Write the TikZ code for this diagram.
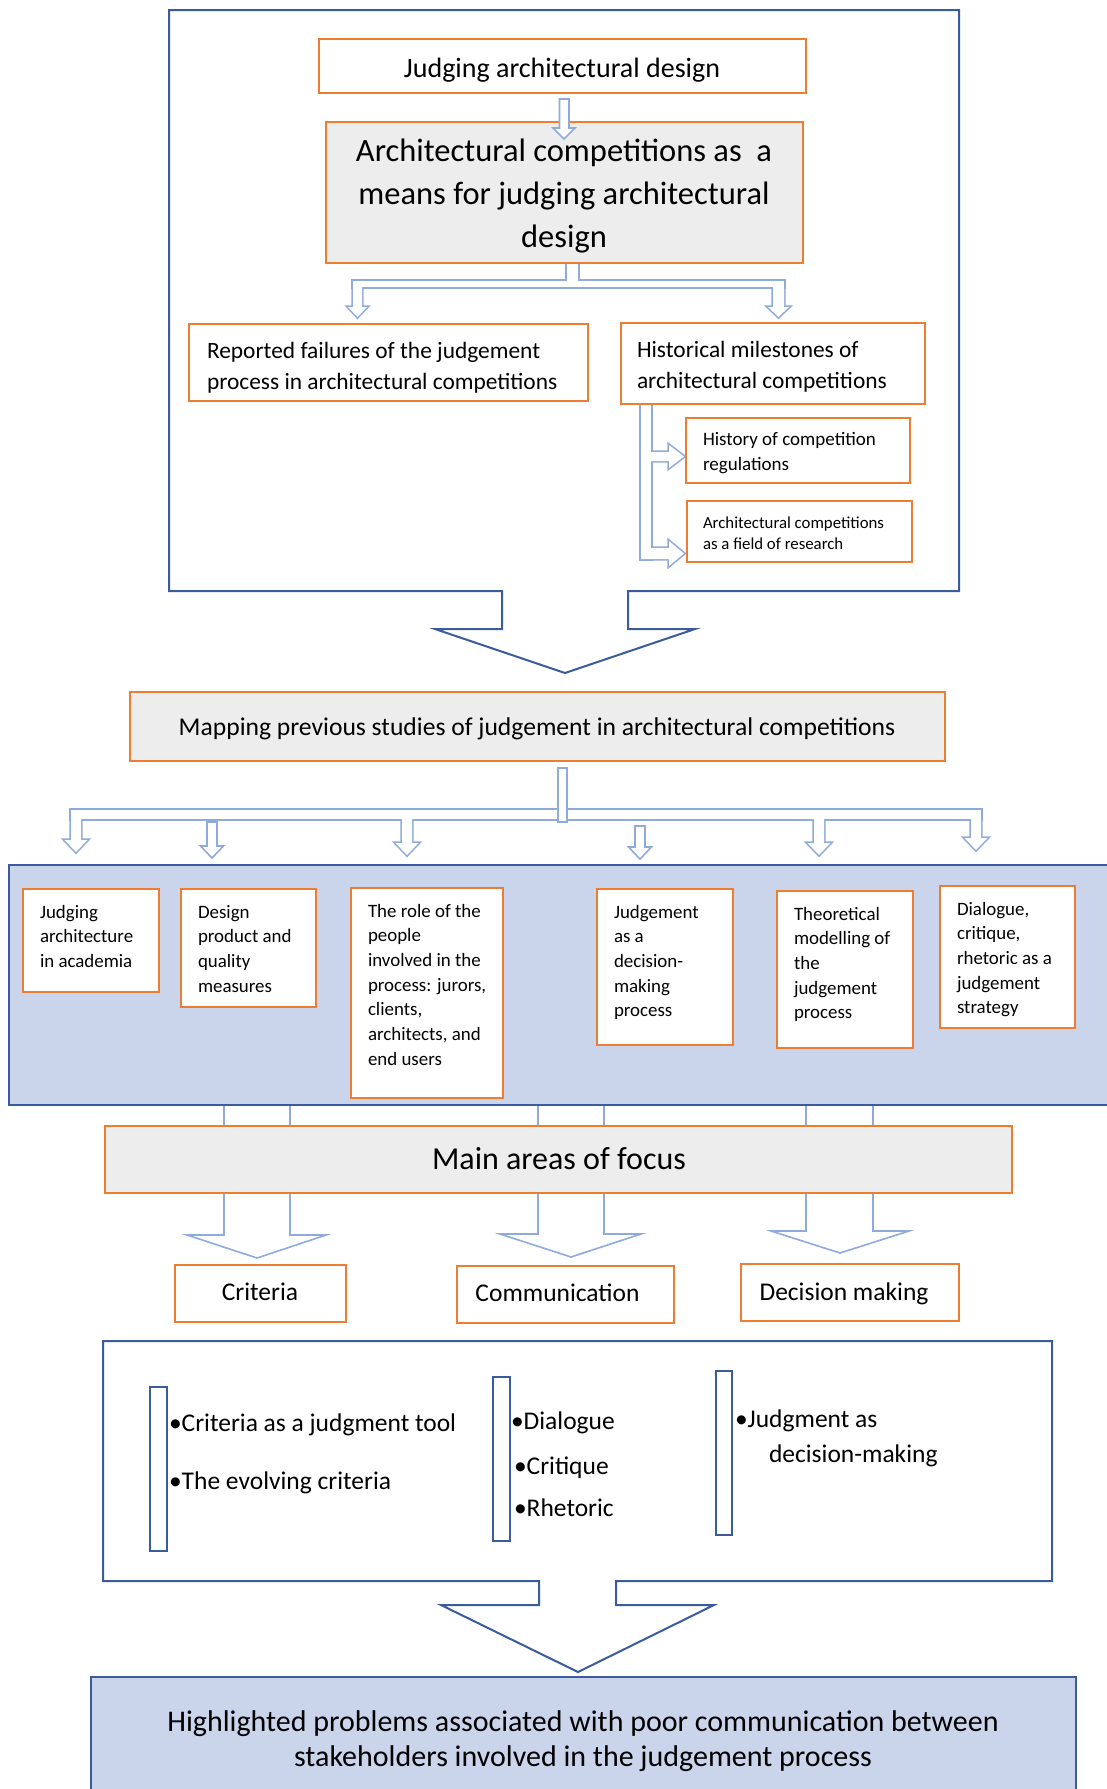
\documentclass[tikz,border=0pt]{standalone}
\usepackage{fontspec}
\setmainfont{Carlito}
\usetikzlibrary{calc}
\definecolor{orng}{HTML}{ED7D31}
\definecolor{lblue}{HTML}{8FAADC}
\definecolor{dblue}{HTML}{3B5C9C}
\definecolor{bfill}{HTML}{CAD5EC}
\definecolor{gfill}{HTML}{EDEDED}
\newcommand\fs[2]{\fontsize{#1}{#2}\selectfont}
\newcommand\bx[6]{\node[#1, anchor=north west, minimum width={#5-#3}, minimum height={#6-#4}] (#2) at (#3,#4) {};}
\newcommand\union[1]{%
  \foreach \p in {#1}{\draw[draw=lblue, line width=3.2pt, line join=miter] \p;}
  \foreach \p in {#1}{\fill[white] \p;}
}
\tikzset{
  obox/.style={draw=orng, line width=2.4pt, fill=white, inner sep=0pt, outer sep=0pt},
  gbox/.style={obox, fill=gfill},
  bbox/.style={draw=dblue, line width=2pt, fill=bfill, inner sep=0pt, outer sep=0pt},
  barst/.style={draw=dblue, line width=2pt, fill=white, inner sep=0pt, outer sep=0pt},
  hol/.style={draw=lblue, line width=1.6pt, fill=white, line join=miter},
  dbl/.style={draw=dblue, line width=2pt, line join=miter},
  tx/.style={inner sep=0pt, outer sep=0pt, align=left},
}
\begin{document}
\begin{tikzpicture}[x=1pt,y=-1pt]
\useasboundingbox (0,0) rectangle (1107,1789);
\fill[white] (0,0) rectangle (1107,1789);

% top frame with down arrow
\draw[dbl, fill=white] (169,10) -- (959,10) -- (959,591) -- (628,591) -- (628,629) -- (695,629) -- (565,673) -- (435,629) -- (502,629) -- (502,591) -- (169,591) -- cycle;

% branch connector from comp
\union{{(567,263.5) rectangle (578,284)},{(353,281) rectangle (784,287)},{(353,287) -- (362,287) -- (362,307) -- (367,307) -- (357.5,317) -- (348,307) -- (353,307) -- cycle},{(773,287) -- (784,287) -- (784,307) -- (789,307) -- (778.5,317) -- (768,307) -- (773,307) -- cycle}}

\bx{obox}{jad}{319}{39}{806}{93}
\bx{gbox}{comp}{326}{122}{803}{263}
\draw[hol] (559.5,99) -- (569,99) -- (569,128) -- (575,128) -- (564,139) -- (553,128) -- (559.5,128) -- cycle;

\node[tx] (tjad) at (562,70.5) {\fs{28}{34}Judging architectural design};
\node[tx, align=center, font=\fs{32.5}{43}] (tcomp) at (564,196) {Architectural competitions as\ \ a\\means for judging architectural\\design};

\bx{obox}{fail}{189}{324}{588}{401}
\union{{(641,404) rectangle (651,559)},{(651,452) -- (669,452) -- (669,445) -- (684,456.5) -- (669,468) -- (669,461) -- (651,461) -- cycle},{(641,548) -- (669,548) -- (669,541) -- (684,553.5) -- (669,566) -- (669,559) -- (641,559) -- cycle}}
\bx{obox}{hist}{621}{323}{925}{404}
\bx{obox}{regs}{686}{418}{910}{483}
\bx{obox}{field}{687}{501}{912}{562}

\node[tx, anchor=west, font=\fs{23.4}{31}] (tfail) at (207,367.5) {Reported failures of the judgement\\process in architectural competitions};
\node[tx, anchor=west, font=\fs{23.4}{31}] (thist) at (637,366.5) {Historical milestones of\\architectural competitions};
\node[tx, anchor=west, font=\fs{19}{25}] (tregs) at (703,453.5) {History of competition\\regulations};
\node[tx, anchor=west, font=\fs{16.8}{21}] (tfield) at (703,533.5) {Architectural competitions\\as a field of research};

% mapping
\bx{gbox}{map}{130}{692}{945}{761}
\node[tx] (tmap) at (537,729) {\fs{25.6}{30}Mapping previous studies of judgement in architectural competitions};
\union{{(71,810) rectangle (981,819)},{(71,819) -- (81,819) -- (81,840) -- (87.5,840) -- (76,852) -- (64.5,840) -- (71,840) -- cycle},{(402,819) -- (412,819) -- (412,843) -- (418.5,843) -- (407,855) -- (395.5,843) -- (402,843) -- cycle},{(814,819) -- (824,819) -- (824,843) -- (830.5,843) -- (819,855) -- (807.5,843) -- (814,843) -- cycle},{(971,819) -- (981,819) -- (981,838) -- (987.5,838) -- (976,850) -- (964.5,838) -- (971,838) -- cycle}}
\draw[hol] (558,768) rectangle (567,822);
\draw[hol] (207,822) -- (217,822) -- (217,846) -- (223.5,846) -- (212,858) -- (200.5,846) -- (207,846) -- cycle;
\draw[hol] (635,826) -- (645,826) -- (645,847) -- (651.5,847) -- (640,859) -- (628.5,847) -- (635,847) -- cycle;

% big arrows to areas
\draw[hol] (224,1105) -- (224,1235) -- (187,1235) -- (257,1258) -- (326,1235) -- (290,1235) -- (290,1105);
\draw[hol] (538,1105) -- (538,1234) -- (500,1234) -- (571,1257) -- (641,1234) -- (604,1234) -- (604,1105);
\draw[hol] (806,1105) -- (806,1231) -- (771,1231) -- (840,1253) -- (909,1231) -- (873,1231) -- (873,1105);

% blue area with six boxes
\bx{bbox}{area}{9}{865}{1120}{1105}
\bx{obox}{b1}{23}{889}{159}{992}
\bx{obox}{b2}{181}{889}{316}{1007}
\bx{obox}{b3}{351}{888}{503}{1098}
\bx{obox}{b4}{597}{889}{733}{1045}
\bx{obox}{b5}{777}{891}{913}{1048}
\bx{obox}{b6}{940}{886}{1075}{1028}
\tikzset{sixt/.style={tx, anchor=north west, font=\fs{18.9}{24.7}}}
\node[sixt] (t1) at ($(b1.north west)+(17,16)$) {Judging\\architecture\\in academia};
\node[sixt] (t2) at ($(b2.north west)+(17,16)$) {Design\\product and\\quality\\measures};
\node[sixt] (t3) at ($(b3.north west)+(17,16)$) {The role of the\\people\\involved in the\\process: jurors,\\clients,\\architects, and\\end users};
\node[sixt] (t4) at ($(b4.north west)+(17,16)$) {Judgement\\as a\\decision-\\making\\process};
\node[sixt] (t5) at ($(b5.north west)+(17,16)$) {Theoretical\\modelling of\\the\\judgement\\process};
\node[sixt] (t6) at ($(b6.north west)+(17,16)$) {Dialogue,\\critique,\\rhetoric as a\\judgement\\strategy};

% main areas
\bx{gbox}{main}{105}{1126}{1012}{1193}
\node[tx] (tmain) at (559,1159) {\fs{32}{38}Main areas of focus};
\bx{obox}{crit}{175}{1265}{346}{1322}
\bx{obox}{comm}{457}{1266}{674}{1323}
\bx{obox}{dec}{741}{1264}{959}{1321}
\node[tx] (tcrit) at (260,1292) {\fs{25.5}{30}Criteria};
\node[tx] (tcomm) at (557.5,1293) {\fs{25.5}{30}Communication};
\node[tx] (tdec) at (844,1294) {\fs{25.5}{30}Decision making};

% bottom container
\draw[dbl, fill=white] (103,1341) -- (1052,1341) -- (1052,1581) -- (616,1581) -- (616,1605) -- (714,1605) -- (578,1672) -- (441,1605) -- (539,1605) -- (539,1581) -- (103,1581) -- cycle;
\bx{barst}{bar1}{150}{1387}{167}{1551}
\bx{barst}{bar2}{493}{1377}{510}{1541}
\bx{barst}{bar3}{716}{1371}{732}{1535}
\tikzset{bul/.style={tx, anchor=base west, font=\fs{25.5}{30}}}
\node[bul] (c1) at (169,1431.5) {•Criteria as a judgment tool};
\node[bul] (c2) at (169,1489.5) {•The evolving criteria};
\node[bul] (d1) at (511,1429.5) {•Dialogue};
\node[bul] (d2) at (514,1474.5) {•Critique};
\node[bul] (d3) at (514,1516.5) {•Rhetoric};
\node[bul] (j1) at (735,1427.5) {•Judgment as};
\node[bul] (j2) at (769,1462.5) {decision-making};

% bottom result box
\bx{bbox}{bot}{91}{1677}{1076}{1800}
\node[tx, align=center, font=\fs{30}{35}] (tbot) at (583,1741.5) {Highlighted problems associated with poor communication between\\stakeholders involved in the judgement process};
\end{tikzpicture}
\end{document}
